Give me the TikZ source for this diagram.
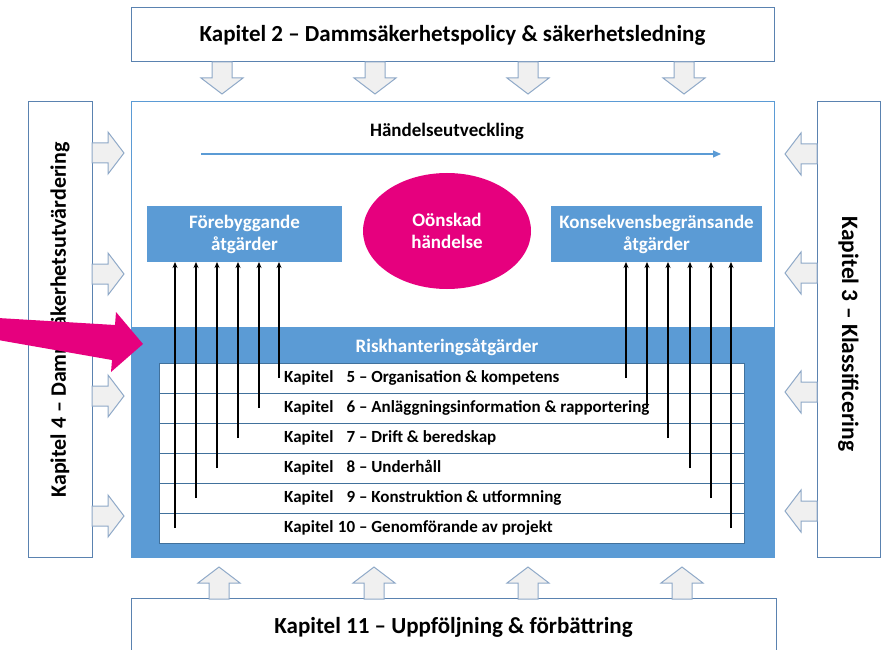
\documentclass[tikz,border=0pt]{standalone}
\usepackage{fontspec}
\setmainfont{Carlito}
\usetikzlibrary{arrows.meta,positioning,calc,shapes.geometric}
\definecolor{riskBlue}{HTML}{5B9BD5}
\definecolor{edgeBlue}{HTML}{41719C}
\definecolor{chapEdge}{HTML}{5A82B0}
\definecolor{eventPink}{HTML}{E6007E}
\definecolor{flowGray}{HTML}{F0F0F0}
\definecolor{flowEdge}{HTML}{8FA9C8}
\tikzset{
	flowarrow/.pic={\filldraw[fill=flowGray,draw=flowEdge,line width=1pt] (0,0) -- (-21,-16) -- (-10,-16) -- (-10,-32) -- (10,-32) -- (10,-16) -- (21,-16) -- cycle;},
	chapbox/.style={draw=chapEdge,line width=1pt,fill=white,inner sep=0,outer sep=0},
	measure/.style={fill=riskBlue,text=white,align=center,inner sep=0,outer sep=0,
		font=\bfseries\fontsize{19}{22}\selectfont},
	rowbox/.style={draw=edgeBlue,line width=0.8pt,fill=white,minimum width=585pt,
		minimum height=30pt,inner sep=0,outer sep=0},
	rowtext/.style={anchor=west,inner sep=0,font=\bfseries\fontsize{17}{20}\selectfont},
	riskarrow/.style={draw=black,line width=1.2pt,-{Stealth[length=6pt,width=5pt]}}
}
\newcommand{\kap}[2]{\makebox[71pt][l]{Kapitel}\llap{#1} -- #2}

\begin{document}
\begin{tikzpicture}[x=1pt,y=-1pt]
	\useasboundingbox (0,0) rectangle (884,650);
	\clip (0,0) rectangle (884,650);
	% chapter boxes round the frame
	\node[chapbox,minimum width=643pt,minimum height=54pt,font=\bfseries\fontsize{23}{27}\selectfont] (kap2) at (452.5,35) {Kapitel 2 -- Dammsäkerhetspolicy \& säkerhetsledning};
	\node[chapbox,minimum width=645pt,minimum height=58pt,font=\bfseries\fontsize{23}{27}\selectfont] (kap11) at (453.5,627) {Kapitel 11 -- Uppföljning \& förbättring};
	\node[chapbox,rotate=90,minimum width=455pt,minimum height=64pt,font=\bfseries\fontsize{22}{26}\selectfont] (kap4) at (60,329.5) {\hspace*{19pt}Kapitel 4 -- Dammsäkerhetsutvärdering};
	\node[chapbox,rotate=-90,minimum width=455pt,minimum height=63pt,font=\bfseries\fontsize{23.5}{27}\selectfont] (kap3) at (848.5,329.5) {\hspace*{9pt}Kapitel 3 -- Klassificering};
	
	\foreach \x in {222,375,528,684} \pic at (\x,94) {flowarrow};
	\foreach \x in {219,374,528,682} \pic[rotate=180] at (\x,567) {flowarrow};
	\foreach \y in {153,274,396,516} \pic[rotate=90] at (124,\y) {flowarrow};
	\foreach \y in {154,273,392,511} \pic[rotate=-90] at (785,\y) {flowarrow};
	
	% event frame
	\node[draw=riskBlue,line width=1pt,fill=white,minimum width=643pt,minimum height=455pt,inner sep=0,outer sep=0] (frame) at (452.5,329.5) {};
	\node[font=\bfseries\fontsize{19}{22}\selectfont,inner sep=0] (devlabel) at (447,131) {Händelseutveckling};
	\coordinate (devstart) at (201,154);
	\coordinate (devend) at (721,154);
	\draw[riskBlue,line width=1.2pt,-{Triangle[length=8pt,width=7pt]}] (devstart) -- (devend);
	\node[measure,minimum width=195pt,minimum height=56pt] (fore) at (244.5,234) {Förebyggande\\åtgärder};
	\node[measure,minimum width=211pt,minimum height=56pt] (cons) at (656.5,234) {Konsekvensbegränsande\\åtgärder};
	\node[ellipse,fill=eventPink,text=white,align=center,inner sep=0,minimum width=168pt,minimum height=116pt,
		font=\bfseries\fontsize{19}{22}\selectfont] (oonskad) at (447,231) {Oönskad\\händelse};
	
	% risk measures
	\node[fill=riskBlue,minimum width=643pt,minimum height=230pt,inner sep=0,outer sep=0] (riskarea) at (452.5,442) {};
	\node[font=\bfseries\fontsize{19}{22}\selectfont,text=white,inner sep=0] (risktitle) at (447,347) {Riskhanteringsåtgärder};
	\node[rowbox] (k5) at (451.5,378) {};
	\node[rowbox,below=0pt of k5] (k6) {};
	\node[rowbox,below=0pt of k6] (k7) {};
	\node[rowbox,below=0pt of k7] (k8) {};
	\node[rowbox,below=0pt of k8] (k9) {};
	\node[rowbox,below=0pt of k9] (k10) {};
	\node[rowtext] (t5) at ([xshift=125pt]k5.west) {\kap{5}{Organisation \& kompetens}};
	\node[rowtext] (t6) at ([xshift=125pt]k6.west) {\kap{6}{Anläggningsinformation \& rapportering}};
	\node[rowtext] (t7) at ([xshift=125pt]k7.west) {\kap{7}{Drift \& beredskap}};
	\node[rowtext] (t8) at ([xshift=125pt]k8.west) {\kap{8}{Underhåll}};
	\node[rowtext] (t9) at ([xshift=125pt]k9.west) {\kap{9}{Konstruktion \& utformning}};
	\node[rowtext] (t10) at ([xshift=125pt]k10.west) {\kap{10}{Genomförande av projekt}};
	
	\foreach \x/\r in {175/k10,196/k9,217/k8,238/k7,259/k6,279/k5}
		\draw[riskarrow] (\x,0 |- \r) -- (\x,0 |- fore.south);
	\foreach \x/\r in {626/k5,647/k6,668/k7,690/k8,711/k9,731/k10}
		\draw[riskarrow] (\x,0 |- \r) -- (\x,0 |- cons.south);
	
	% pointer
	\fill[eventPink] (-2,318) -- (115,325) -- (116,312) -- (143,344) -- (111,372) -- (112,360) -- (-2,340) -- cycle;
\end{tikzpicture}
\end{document}
